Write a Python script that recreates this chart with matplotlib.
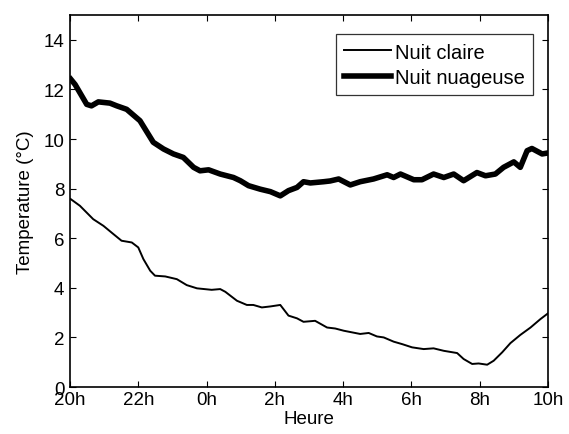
import matplotlib
matplotlib.use("Agg")
import matplotlib.pyplot as plt

plt.rcParams['font.family'] = ['Liberation Sans', 'DejaVu Sans']

# hours elapsed since 20h
claire_x = [0.02, 0.29, 0.68, 0.98, 1.27, 1.51, 1.81, 2.0, 2.15, 2.35, 2.49, 2.79, 3.13, 3.42, 3.72,
            4.15, 4.4, 4.55, 4.89, 5.18, 5.37, 5.62, 5.87, 6.16, 6.4, 6.65, 6.84, 7.18, 7.53, 7.77,
            8.02, 8.5, 8.75, 8.99, 9.19, 9.48, 9.73, 10.02, 10.36, 10.65, 10.95, 11.34, 11.53, 11.78,
            11.97, 12.22, 12.41, 12.66, 12.9, 13.19, 13.49, 13.78, 14.0]
claire_y = [7.58, 7.31, 6.77, 6.5, 6.17, 5.9, 5.83, 5.63, 5.16, 4.69, 4.49, 4.46, 4.35, 4.11, 3.98,
            3.92, 3.95, 3.84, 3.48, 3.31, 3.31, 3.21, 3.25, 3.31, 2.88, 2.77, 2.63, 2.67, 2.4, 2.36,
            2.27, 2.14, 2.18, 2.04, 2.0, 1.83, 1.73, 1.6, 1.53, 1.56, 1.46, 1.37, 1.13, 0.93,
            0.95, 0.9, 1.06, 1.4, 1.77, 2.1, 2.4, 2.74, 2.97]

nuag_x = [0.02, 0.15, 0.49, 0.63, 0.83, 1.17, 1.37, 1.66, 2.05, 2.44, 2.74, 3.03, 3.32, 3.62, 3.81,
          4.06, 4.4, 4.79, 4.99, 5.23, 5.57, 5.87, 6.16, 6.4, 6.65, 6.84, 7.04, 7.43, 7.62, 7.87,
          8.21, 8.5, 8.89, 9.29, 9.48, 9.68, 10.07, 10.31, 10.65, 10.95, 11.24, 11.53, 11.92, 12.17,
          12.46, 12.7, 13.0, 13.19, 13.39, 13.53, 13.83, 14.0]
nuag_y = [12.42, 12.2, 11.4, 11.34, 11.5, 11.45, 11.34, 11.2, 10.74, 9.87, 9.6, 9.4, 9.26, 8.86, 8.72,
          8.76, 8.59, 8.45, 8.32, 8.12, 7.98, 7.88, 7.71, 7.92, 8.05, 8.28, 8.23, 8.28, 8.31, 8.39,
          8.15, 8.28, 8.39, 8.56, 8.45, 8.59, 8.36, 8.36, 8.59, 8.45, 8.59, 8.32, 8.65, 8.52,
          8.59, 8.86, 9.08, 8.86, 9.53, 9.62, 9.4, 9.44]

xtick_pos = [0, 2, 4, 6, 8, 10, 12, 14]
xtick_labels = ['20h', '22h', '0h', '2h', '4h', '6h', '8h', '10h']
ytick_pos = [0, 2, 4, 6, 8, 10, 12, 14]

FS = 13.5

fig = plt.figure(figsize=(5.69, 4.35), dpi=100)
ax = fig.add_axes([0.123, 0.108, 0.840, 0.855])

ax.plot(claire_x, claire_y, color='black', lw=1.4, label='Nuit claire')
ax.plot(nuag_x, nuag_y, color='black', lw=4.0, label='Nuit nuageuse')

ax.set_xlim(0, 14)
ax.set_ylim(0, 15)
ax.set_xticks(xtick_pos)
ax.set_xticklabels(xtick_labels)
ax.set_yticks(ytick_pos)
ax.tick_params(direction='in', top=True, right=True, labelsize=FS, length=4, width=0.8)
ax.tick_params(axis='x', pad=3)
ax.tick_params(axis='y', pad=4)
for s in ax.spines.values():
    s.set_linewidth(1.2)

ax.set_xlabel('Heure', fontsize=FS, labelpad=1)
ax.set_ylabel('Temperature (°C)', fontsize=FS, labelpad=7)

leg = ax.legend(loc='upper right', bbox_to_anchor=(0.9686, 0.949), fontsize=14.5, frameon=True,
                fancybox=False, edgecolor='black', handlelength=2.3, handletextpad=0.2,
                borderpad=0.42, labelspacing=0.3, borderaxespad=0)
leg.get_frame().set_linewidth(0.9)

fig.savefig('out.png', dpi=100)
